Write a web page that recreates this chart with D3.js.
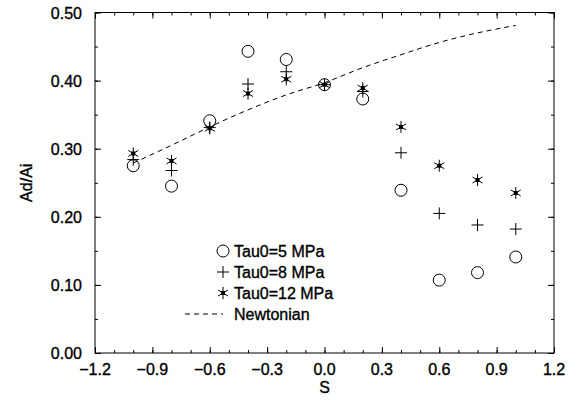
<!DOCTYPE html>
<html>
<head>
<meta charset="utf-8">
<script src="https://cdn.jsdelivr.net/npm/d3@7"></script>
<style>
  body { margin: 0; background: #fff; }
  text { font-family: "Liberation Sans", Arial, Helvetica, sans-serif; fill: #000; stroke: #000; stroke-width: 0.35px; }
</style>
</head>
<body>
<svg id="chart" width="584" height="400"></svg>
<script>
// data
const sValues = [-1.0, -0.8, -0.6, -0.4, -0.2, 0.0, 0.2, 0.4, 0.6, 0.8, 1.0]
const tau5 = [0.275, 0.245, 0.341, 0.443, 0.431, 0.394, 0.373, 0.239, 0.107, 0.118, 0.141]
const tau8 = [0.284, 0.268, 0.331, 0.395, 0.413, 0.394, 0.384, 0.294, 0.205, 0.188, 0.182]
const tau12 = [0.293, 0.282, 0.330, 0.381, 0.402, 0.394, 0.389, 0.332, 0.275, 0.254, 0.235]
const newtonian = [0.279, 0.305, 0.332, 0.357, 0.379, 0.397, 0.419, 0.438, 0.456, 0.470, 0.481]

const xTicks = [-1.2, -0.9, -0.6, -0.3, 0.0, 0.3, 0.6, 0.9, 1.2]
const yTicks = [0.0, 0.1, 0.2, 0.3, 0.4, 0.5]
const legendLabels = ['Tau0=5 MPa', 'Tau0=8 MPa', 'Tau0=12 MPa', 'Newtonian']

const margin = { top: 12.5, right: 30, bottom: 47, left: 95 }
const width = 584, height = 400
const svg = d3.select('#chart')

const x = d3.scaleLinear().domain([-1.2, 1.2]).range([margin.left, width - margin.right])
const y = d3.scaleLinear().domain([0, 0.5]).range([height - margin.bottom, margin.top])

const fmtX = d => d3.format('.1f')(d).replace('-', '\u2212')
const fmtY = d3.format('.2f')

// ticks, pointing inward on all four sides
const xMinor = d3.range(-1.2, 1.2001, 0.1)
const yMinor = d3.range(0, 0.5001, 0.05)

const addTicks = (g, axisFn, vals, len) => {
  g.call(axisFn.tickValues(vals).tickSize(len).tickFormat(''))
  g.select('.domain').remove()
  g.selectAll('line').attr('stroke', '#000').attr('stroke-width', 1)
}

const yBot = y.range()[0], yTop = y.range()[1]
addTicks(svg.append('g').attr('transform', `translate(0,${yBot})`), d3.axisTop(x), xMinor, 3)
addTicks(svg.append('g').attr('transform', `translate(0,${yBot})`), d3.axisTop(x), xTicks, 6)
addTicks(svg.append('g').attr('transform', `translate(0,${yTop})`), d3.axisBottom(x), xMinor, 3)
addTicks(svg.append('g').attr('transform', `translate(0,${yTop})`), d3.axisBottom(x), xTicks, 6)
addTicks(svg.append('g').attr('transform', `translate(${x.range()[0]},0)`), d3.axisRight(y), yMinor, 3)
addTicks(svg.append('g').attr('transform', `translate(${x.range()[0]},0)`), d3.axisRight(y), yTicks, 6)
addTicks(svg.append('g').attr('transform', `translate(${x.range()[1]},0)`), d3.axisLeft(y), yMinor, 3)
addTicks(svg.append('g').attr('transform', `translate(${x.range()[1]},0)`), d3.axisLeft(y), yTicks, 6)

// frame
svg.append('rect')
  .attr('x', x.range()[0]).attr('y', yTop)
  .attr('width', x.range()[1] - x.range()[0])
  .attr('height', yBot - yTop)
  .attr('fill', 'none').attr('stroke', '#000').attr('stroke-width', 1)

// tick labels
svg.append('g').selectAll('text').data(xTicks).join('text')
  .attr('x', d => x(d)).attr('y', y(0) + 22)
  .attr('text-anchor', 'middle').attr('font-size', 16)
  .text(fmtX)

svg.append('g').selectAll('text').data(yTicks).join('text')
  .attr('x', x(-1.2) - 13).attr('y', d => y(d) + 6)
  .attr('text-anchor', 'end').attr('font-size', 16)
  .text(fmtY)

// axis titles
svg.append('text').attr('x', x(0)).attr('y', 393)
  .attr('text-anchor', 'middle').attr('font-size', 16).text('S')
svg.append('text')
  .attr('transform', `translate(32,${(y(0) + y(0.5)) / 2}) rotate(-90)`)
  .attr('text-anchor', 'middle').attr('font-size', 16).text('Ad/Ai')

// Newtonian dashed curve
const line = d3.line().x(d => x(d[0])).y(d => y(d[1])).curve(d3.curveMonotoneX)
svg.append('path')
  .datum(sValues.map((s, i) => [s, newtonian[i]]))
  .attr('d', line)
  .attr('fill', 'none').attr('stroke', '#000').attr('stroke-width', 1)
  .attr('stroke-dasharray', '5,4')

// marker drawers
function drawCircle(g, cx, cy) {
  g.append('circle').attr('cx', cx).attr('cy', cy).attr('r', 6)
    .attr('fill', 'none').attr('stroke', '#000').attr('stroke-width', 1)
}
function drawPlus(g, cx, cy) {
  const h = 6
  g.append('path').attr('d', `M${cx - h},${cy}H${cx + h}M${cx},${cy - h}V${cy + h}`)
    .attr('stroke', '#000').attr('stroke-width', 1).attr('fill', 'none')
}
function drawStar(g, cx, cy) {
  const h = 6, d = 5
  g.append('path')
    .attr('d', `M${cx},${cy - h}V${cy + h}M${cx - d},${cy - d * 0.6}L${cx + d},${cy + d * 0.6}M${cx - d},${cy + d * 0.6}L${cx + d},${cy - d * 0.6}`)
    .attr('stroke', '#000').attr('stroke-width', 1).attr('fill', 'none')
  g.append('rect').attr('x', cx - 2).attr('y', cy - 2).attr('width', 4).attr('height', 4).attr('fill', '#000')
}

const series = [
  { values: tau5, draw: drawCircle },
  { values: tau8, draw: drawPlus },
  { values: tau12, draw: drawStar }
]

const marks = svg.append('g')
series.forEach(ser => {
  ser.values.forEach((v, i) => ser.draw(marks, x(sValues[i]), y(v)))
})

// legend
const legend = svg.append('g')
const legX = 223, legY0 = 251, legDy = 21
series.forEach((ser, i) => {
  ser.draw(legend, legX, legY0 + i * legDy)
})
legend.append('line')
  .attr('x1', 185).attr('x2', 223)
  .attr('y1', legY0 + 3 * legDy).attr('y2', legY0 + 3 * legDy)
  .attr('stroke', '#000').attr('stroke-dasharray', '5,4')
legend.selectAll('text.lab').data(legendLabels).join('text')
  .attr('class', 'lab')
  .attr('x', 234).attr('y', (d, i) => legY0 + i * legDy + 6)
  .attr('font-size', 16)
  .text(d => d)
</script>
</body>
</html>
